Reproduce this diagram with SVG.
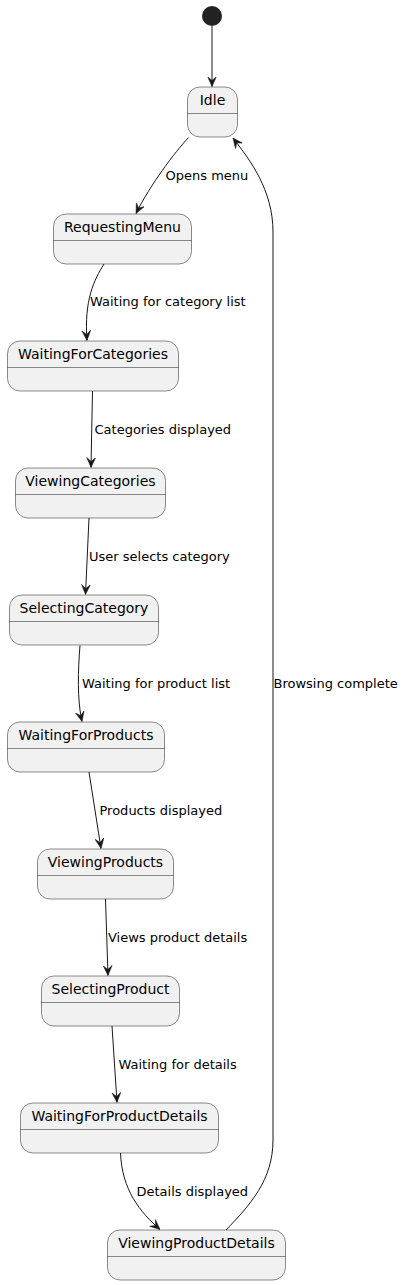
<svg xmlns="http://www.w3.org/2000/svg" width="406" height="1285" viewBox="0 0 406 1285">
<style>
.st rect{fill:#F1F1F1;stroke:#181818;stroke-width:0.5}
.st line{stroke:#181818;stroke-width:0.5}
.st text{font-family:"DejaVu Sans",sans-serif;font-size:14px;fill:#000;text-anchor:middle}
.edges path,.edges line{fill:none;stroke:#181818;stroke-width:1;marker-end:url(#arr)}
.lbl{font-family:"DejaVu Sans",sans-serif;font-size:13px;fill:#000}
</style>
<defs>
<marker id="arr" markerWidth="10" markerHeight="10" viewBox="0 0 10 10" refX="10" refY="5" orient="auto" markerUnits="userSpaceOnUse">
<path d="M0,0.5 L10,5 L0,9.5 L4,5 Z" fill="#181818" stroke="#181818" stroke-width="0.5"/>
</marker>
</defs>
<rect width="406" height="1285" fill="#FFFFFF"/>
<g id="start"><circle cx="212" cy="16" r="10" fill="#222222"/></g>
<g id="Idle" class="st"><rect x="187.5" y="87" width="50" height="50" rx="12.5"/><line x1="187.5" y1="113.5" x2="237.5" y2="113.5"/><text x="212.5" y="105">Idle</text></g>
<g id="RequestingMenu" class="st"><rect x="53.5" y="214" width="138" height="50" rx="12.5"/><line x1="53.5" y1="240.5" x2="191.5" y2="240.5"/><text x="122.5" y="232">RequestingMenu</text></g>
<g id="WaitingForCategories" class="st"><rect x="7.5" y="341" width="171" height="50" rx="12.5"/><line x1="7.5" y1="367.5" x2="178.5" y2="367.5"/><text x="93" y="359">WaitingForCategories</text></g>
<g id="ViewingCategories" class="st"><rect x="15.5" y="468" width="150" height="50" rx="12.5"/><line x1="15.5" y1="494.5" x2="165.5" y2="494.5"/><text x="90.5" y="486">ViewingCategories</text></g>
<g id="SelectingCategory" class="st"><rect x="9.5" y="595" width="149" height="50" rx="12.5"/><line x1="9.5" y1="621.5" x2="158.5" y2="621.5"/><text x="84" y="613">SelectingCategory</text></g>
<g id="WaitingForProducts" class="st"><rect x="7.5" y="722" width="157" height="50" rx="12.5"/><line x1="7.5" y1="748.5" x2="164.5" y2="748.5"/><text x="86" y="740">WaitingForProducts</text></g>
<g id="ViewingProducts" class="st"><rect x="37.5" y="849" width="136" height="50" rx="12.5"/><line x1="37.5" y1="875.5" x2="173.5" y2="875.5"/><text x="105.5" y="867">ViewingProducts</text></g>
<g id="SelectingProduct" class="st"><rect x="41.5" y="976" width="138" height="50" rx="12.5"/><line x1="41.5" y1="1002.5" x2="179.5" y2="1002.5"/><text x="110.5" y="994">SelectingProduct</text></g>
<g id="WaitingForProductDetails" class="st"><rect x="20.5" y="1103" width="198" height="50" rx="12.5"/><line x1="20.5" y1="1129.5" x2="218.5" y2="1129.5"/><text x="119.5" y="1121">WaitingForProductDetails</text></g>
<g id="ViewingProductDetails" class="st"><rect x="107.5" y="1230" width="178" height="50" rx="12.5"/><line x1="107.5" y1="1256.5" x2="285.5" y2="1256.5"/><text x="196.5" y="1248">ViewingProductDetails</text></g>
<g id="connectors" class="edges">
<line x1="212" y1="26" x2="212" y2="86.5"/>
<path d="M188.5,137.5 C175,152 150,185 136,213.5"/>
<path d="M104,264 C94,280 84,300 87,340.5"/>
<path d="M92.5,391 L91,467.5"/>
<path d="M89,518 L85.5,594.5"/>
<path d="M80,645.5 C78,670 77,700 82,721.5"/>
<path d="M89,772 L101,848.5"/>
<path d="M105.5,899 L108,975.5"/>
<path d="M112,1026 L117,1102.5"/>
<path d="M120.5,1153 C122,1190 140,1212 160,1229.5"/>
<path d="M226,1230 C250,1205 273,1180 273,1140 L273,232 C273,190 250,160 233,138"/>
</g>
<g id="labels">
<text class="lbl" x="165.5" y="180">Opens menu</text>
<text class="lbl" x="90" y="306">Waiting for category list</text>
<text class="lbl" x="94.5" y="434">Categories displayed</text>
<text class="lbl" x="89" y="561">User selects category</text>
<text class="lbl" x="82" y="688">Waiting for product list</text>
<text class="lbl" x="99.5" y="815">Products displayed</text>
<text class="lbl" x="108" y="942">Views product details</text>
<text class="lbl" x="118.5" y="1069">Waiting for details</text>
<text class="lbl" x="136.5" y="1196">Details displayed</text>
<text class="lbl" x="273.5" y="688">Browsing complete</text>
</g>
</svg>
